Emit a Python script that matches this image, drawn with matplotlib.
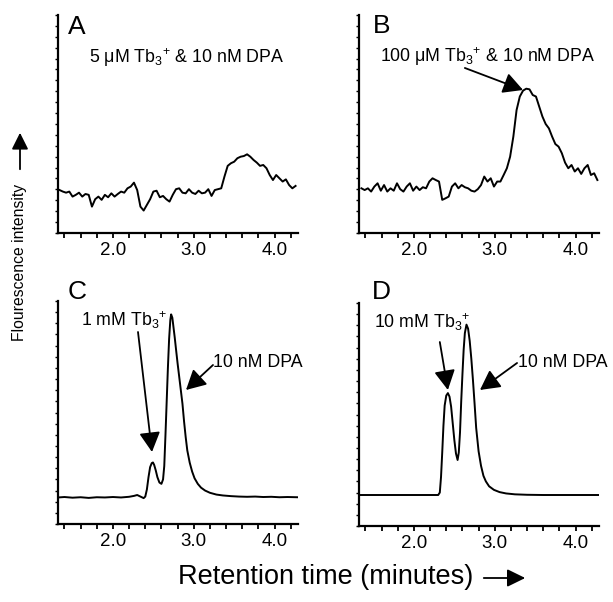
import matplotlib
matplotlib.use("Agg")
import matplotlib.pyplot as plt
import numpy as np
from matplotlib.patches import FancyArrowPatch

plt.rcParams.update({
    "font.family": ["Liberation Sans", "DejaVu Sans"],
    "mathtext.default": "regular",
    "axes.linewidth": 1.6,
})

# ---- data (retention time in minutes, intensity in arbitrary units) ----
# panels A and B are sampled every 0.04 min
t0_a, dt_a = 1.34, 0.04
sig_a = [19.7, 19.0, 18.5, 19.0, 16.7, 17.5, 18.5, 16.7, 17.9, 17.5,
         12.1, 15.5, 16.7, 15.2, 17.5, 16.4, 18.2, 16.7, 17.9, 19.0,
         18.5, 20.5, 21.3, 23.1, 19.7, 12.1, 10.3, 12.9, 15.5, 19.0,
         19.4, 16.4, 17.0, 15.5, 14.4, 17.5, 20.1, 20.5, 18.5, 18.2,
         20.1, 18.5, 17.9, 19.4, 18.2, 18.5, 20.1, 17.0, 19.7, 20.1,
         20.5, 25.9, 30.8, 32.0, 32.7, 34.3, 35.0, 35.3, 36.1, 35.0,
         33.5, 32.3, 30.8, 31.2, 29.7, 26.6, 24.3, 26.6, 25.1, 23.6,
         24.6, 22.0, 20.5, 21.6]

t0_b, dt_b = 1.35, 0.04
sig_b = [20.5, 19.7, 20.5, 19.0, 21.3, 22.8, 19.4, 22.0, 19.0, 20.5,
         19.4, 22.8, 20.1, 19.0, 21.3, 22.8, 19.4, 21.3, 19.7, 21.0,
         20.5, 23.6, 25.1, 24.3, 23.6, 15.2, 15.9, 16.7, 21.3, 22.8,
         20.5, 22.0, 21.0, 20.5, 19.4, 19.0, 20.1, 22.0, 25.9, 23.6,
         25.1, 21.3, 23.6, 23.6, 26.6, 29.7, 35.0, 44.2, 56.4, 62.6,
         65.3, 66.2, 65.9, 63.3, 62.6, 58.0, 53.4, 50.0, 48.0, 44.2,
         40.8, 39.6, 36.6, 32.3, 29.7, 31.2, 28.2, 29.7, 27.1, 29.7,
         31.2, 26.6, 27.4, 24.3]

t_c = [1.32, 1.40, 1.50, 1.60, 1.70, 1.80, 1.90, 2.00, 2.10, 2.20,
       2.26, 2.30, 2.34, 2.38, 2.40, 2.42, 2.44, 2.46, 2.48, 2.495,
       2.51, 2.53, 2.55, 2.575, 2.60, 2.62, 2.635, 2.65, 2.665, 2.68,
       2.695, 2.71, 2.72, 2.735, 2.75, 2.765, 2.78, 2.80, 2.82, 2.84,
       2.86, 2.88, 2.90, 2.92, 2.95, 2.98, 3.01, 3.05, 3.09, 3.14,
       3.20, 3.28, 3.36, 3.46, 3.56, 3.66, 3.76, 3.86, 3.96, 4.06,
       4.16, 4.28]
sig_c = [11.9, 12.1, 11.8, 12.0, 11.7, 12.0, 11.9, 12.1, 11.9, 12.2,
         12.6, 13.0, 12.3, 11.6, 12.3, 15.5, 21.0, 25.5, 27.3, 27.6,
         26.5, 24.0, 21.0, 18.6, 18.0, 20.0, 26.0, 40.0, 55.0, 70.0,
         83.0, 91.5, 94.0, 92.5, 88.0, 83.5, 78.5, 72.0, 66.0, 60.0,
         54.0, 46.0, 39.0, 33.0, 27.5, 23.5, 20.5, 18.0, 16.3, 15.0,
         14.0, 13.2, 12.8, 12.5, 12.3, 12.2, 12.3, 12.1, 12.2, 12.0,
         12.1, 12.0]

t_d = [1.32, 1.60, 2.00, 2.30, 2.32, 2.335, 2.35, 2.365, 2.38, 2.40,
       2.42, 2.44, 2.46, 2.48, 2.50, 2.52, 2.54, 2.555, 2.57, 2.585,
       2.60, 2.615, 2.63, 2.65, 2.67, 2.69, 2.71, 2.73, 2.75, 2.77,
       2.80, 2.83, 2.86, 2.89, 2.93, 2.99, 3.06, 3.14, 3.25, 3.40,
       3.60, 3.80, 4.00, 4.28]
sig_d = [13.9, 13.9, 13.9, 13.9, 15.0, 22.0, 33.0, 45.0, 54.0, 58.5,
         59.6, 58.0, 53.5, 46.0, 38.5, 32.5, 29.6, 33.0, 42.0, 56.0,
         68.0, 79.0, 86.5, 90.3, 88.5, 83.0, 75.0, 65.5, 55.0, 44.0,
         33.5, 27.0, 22.5, 20.0, 17.8, 16.2, 15.2, 14.6, 14.2, 14.0,
         13.9, 13.9, 13.9, 13.9]

xticks_lab = [2.0, 3.0, 4.0]

W, H = 613, 602
fig = plt.figure(figsize=(W / 100, H / 100), dpi=100)


def px_axes(l, t, r, b):
    return fig.add_axes([l / W, 1 - b / H, (r - l) / W, (b - t) / H])


def style(ax):
    ax.set_xlim(1.32, 4.29)
    ax.set_ylim(0, 100)
    for s in ("top", "right"):
        ax.spines[s].set_visible(False)
    ticks = np.arange(1.4, 4.3, 0.2)
    ax.set_xticks(ticks)
    ax.set_xticklabels([f"{v:.1f}" if any(abs(v - k) < 1e-6 for k in xticks_lab) else ""
                        for v in ticks])
    ax.set_yticks(np.arange(0, 101, 5))
    ax.tick_params(axis="x", direction="out", length=3.5, width=1.3, labelsize=13.5, pad=3)
    ax.tick_params(axis="y", direction="out", length=2.5, width=1.0, labelleft=False)


arrow_kw = dict(arrowstyle="-|>,head_length=0.6,head_width=0.32", color="k",
                lw=1.3, mutation_scale=20, shrinkA=0, shrinkB=0)
ann_fs = 12.8

axA = px_axes(58, 15, 298, 233)
axB = px_axes(359, 15, 599, 233)
axC = px_axes(58, 301, 298, 524)
axD = px_axes(359, 303, 599, 526)

axA.plot(t0_a + dt_a * np.arange(len(sig_a)), sig_a, color="k", lw=1.4)
axB.plot(t0_b + dt_b * np.arange(len(sig_b)), sig_b, color="k", lw=1.4)
axC.plot(t_c, sig_c, color="k", lw=1.4)
axD.plot(t_d, sig_d, color="k", lw=1.4)

for ax, lab, fy in ((axA, "A", 0.945), (axB, "B", 0.95), (axC, "C", 1.04), (axD, "D", 1.05)):
    style(ax)
    ax.text(0.08 if ax in (axA, axC) else 0.095, fy, lab, transform=ax.transAxes,
            fontsize=19, ha="center", va="center")

tb = "Tb$_{3}{}^{+}$"
axA.text(0.537, 0.805, f"5 μM {tb} & 10 nM DPA", transform=axA.transAxes,
         fontsize=ann_fs, ha="center", va="center")

axB.text(0.537, 0.81, f"100 μM {tb} & 10 nM DPA", transform=axB.transAxes,
         fontsize=ann_fs, ha="center", va="center")
axB.annotate("", xy=(3.35, 65.6), xytext=(2.63, 75.7), arrowprops=arrow_kw)

axC.text(1.61, 91.5, f"1 mM {tb}", fontsize=ann_fs, ha="left", va="center")
axC.annotate("", xy=(2.483, 32.3), xytext=(2.31, 86.1), arrowprops=arrow_kw)
axC.text(3.24, 72.2, "10 nM DPA", fontsize=ann_fs, ha="left", va="center")
axC.annotate("", xy=(2.904, 60.1), xytext=(3.238, 71.3), arrowprops=arrow_kw)

axD.text(1.51, 91.5, f"10 mM {tb}", fontsize=ann_fs, ha="left", va="center")
axD.annotate("", xy=(2.42, 61.0), xytext=(2.32, 82.5), arrowprops=arrow_kw)
axD.text(3.29, 73.5, "10 nM DPA", fontsize=ann_fs, ha="left", va="center")
axD.annotate("", xy=(2.817, 61.0), xytext=(3.276, 73.1), arrowprops=arrow_kw)

# shared axis labels with arrows
fig.text(20 / W, 1 - 262 / H, "Flourescence intensity", rotation=90,
         fontsize=11.3, ha="center", va="center")
fig.add_artist(FancyArrowPatch((20 / W, 1 - 172 / H), (20 / W, 1 - 130 / H),
                               transform=fig.transFigure,
                               arrowstyle="-|>,head_length=0.5,head_width=0.25",
                               mutation_scale=20, lw=1.3, color="k"))
fig.text(326 / W, 1 - 577 / H, "Retention time (minutes)", fontsize=19.5,
         ha="center", va="center")
fig.add_artist(FancyArrowPatch((481 / W, 1 - 578 / H), (528 / W, 1 - 578 / H),
                               transform=fig.transFigure,
                               arrowstyle="-|>,head_length=0.55,head_width=0.27",
                               mutation_scale=20, lw=1.3, color="k"))

fig.savefig("out.png", dpi=100)
